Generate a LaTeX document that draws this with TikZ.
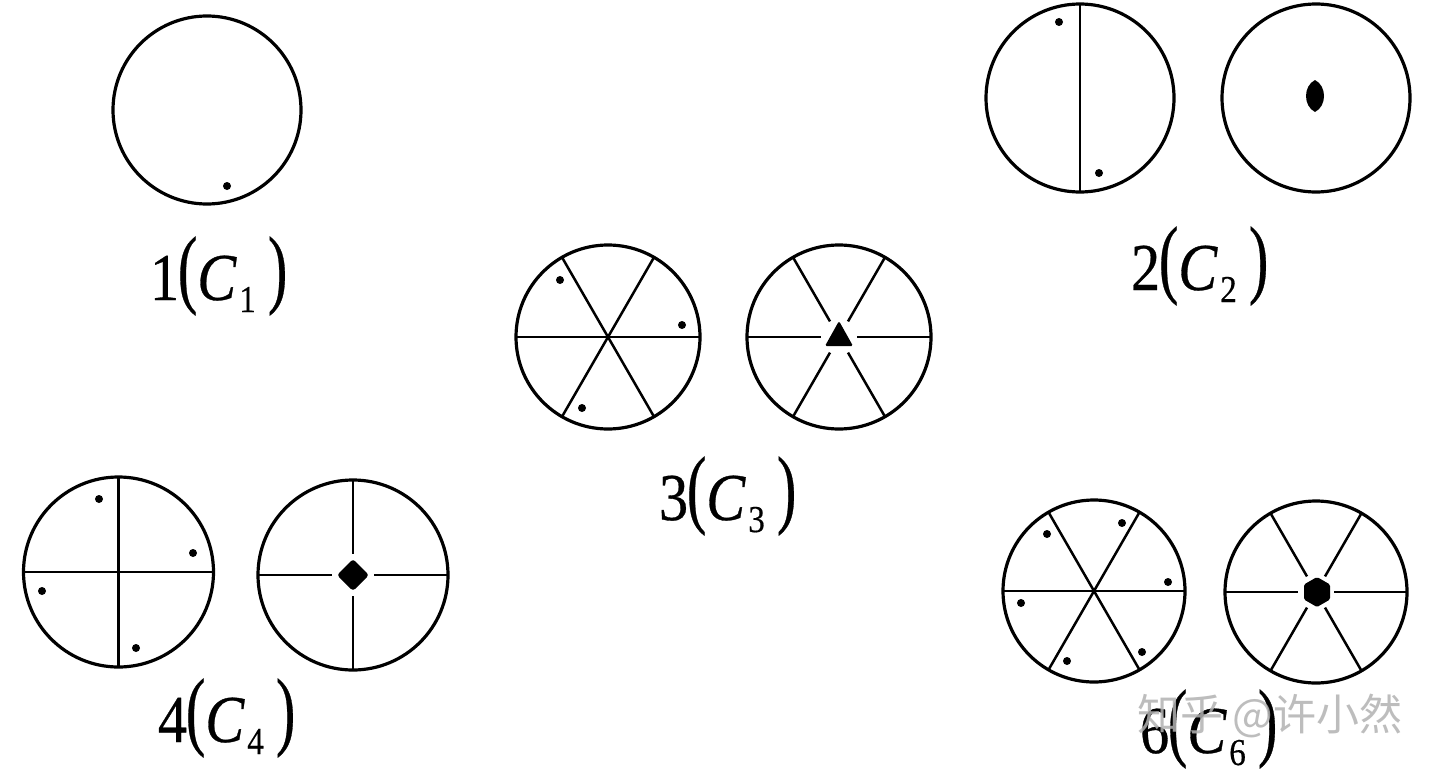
\documentclass[tikz,border=0pt]{standalone}
\usepackage{fontspec}
\setmainfont{Liberation Serif}
\newfontfamily\labfont[FakeBold=0.5]{Liberation Serif}
\newfontfamily\cjk{Noto Sans CJK SC}
\usepackage{graphicx}
\usetikzlibrary{calc}
\newcommand{\symlab}[2]{\scalebox{0.87}[1]{\labfont\fontsize{67}{67}\selectfont #1\kern-1.5pt\raisebox{3pt}{\scalebox{1}[1.3]{(}}\textit{C}\kern3pt\raisebox{-12pt}{\fontsize{38}{38}\selectfont #2}\kern14pt\raisebox{3pt}{\scalebox{1}[1.3]{)}}}}
\tikzset{
  disc/.style={circle, draw, line width=3.2pt, inner sep=0pt, outer sep=0pt},
  spoke/.style={line width=2.5pt},
  dot/.style={circle, fill, inner sep=0pt, outer sep=0pt, minimum size=8pt},
  lab/.style={anchor=base west, inner sep=0pt, outer sep=0pt},
  symfill/.style={fill, rounded corners=1.5pt}
}
\begin{document}
\begin{tikzpicture}[x=1pt,y=-1pt]
\useasboundingbox[fill=white] (0,0) rectangle (1440,776);
% ---- 1 (C1)
\node[disc, minimum size=188pt] (c1) at (207,110) {};
\node[dot] (d11) at (227,186) {};
\node[lab] (l1) at (150,300) {\symlab{1}{1}};
% ---- 2 (C2)
\node[disc, minimum size=188pt] (c2a) at (1080,98) {};
\draw[spoke] (c2a.90) -- (c2a.270);
\node[dot] (d21) at (1059,22) {};
\node[dot] (d22) at (1099,173) {};
\node[disc, minimum size=188pt] (c2b) at (1316,98) {};
\fill (1315,80) .. controls (1327,86) and (1327,106) .. (1315,112) .. controls (1303,106) and (1303,86) .. cycle;
\node[lab] (l2) at (1131,290) {\symlab{2}{2}};
% ---- 3 (C3)
\node[disc, minimum size=184pt] (c3a) at (608,337) {};
\draw[spoke] (c3a.0) -- (c3a.180);
\draw[spoke] (c3a.60) -- (c3a.240);
\draw[spoke] (c3a.120) -- (c3a.300);
\node[dot] (d31) at (560,280) {};
\node[dot] (d32) at (682,325) {};
\node[dot] (d33) at (582,408) {};
\node[disc, minimum size=184pt] (c3b) at (839,337) {};
\foreach \a in {0,60,...,300} \draw[spoke] (c3b.\a) -- ($(c3b.center)!18pt!(c3b.\a)$);
\fill[symfill] (839,321) -- (853,346) -- (825,346) -- cycle;
\node[lab] (l3) at (659,520) {\symlab{3}{3}};
% ---- 4 (C4)
\node[disc, minimum size=190pt] (c4a) at (118.5,572) {};
\draw[spoke] (c4a.90) -- (c4a.270);
\draw[spoke] (c4a.0) -- (c4a.180);
\node[dot] (d41) at (99,499) {};
\node[dot] (d42) at (193,553) {};
\node[dot] (d43) at (42,591) {};
\node[dot] (d44) at (136,648) {};
\node[disc, minimum size=190pt] (c4b) at (353,575) {};
\foreach \a in {0,90,180,270} \draw[spoke] (c4b.\a) -- ($(c4b.center)!21pt!(c4b.\a)$);
\fill[symfill, rounded corners=3pt] (353,559) -- (369,575) -- (353,591) -- (337,575) -- cycle;
\node[lab] (l4) at (158,742) {\symlab{4}{4}};
% ---- 6 (C6)
\node[disc, minimum size=182pt] (c6a) at (1094,591) {};
\draw[spoke] (c6a.0) -- (c6a.180);
\draw[spoke] (c6a.60) -- (c6a.240);
\draw[spoke] (c6a.120) -- (c6a.300);
\node[dot] (d61) at (1047,534) {};
\node[dot] (d62) at (1122,523) {};
\node[dot] (d63) at (1168,582) {};
\node[dot] (d64) at (1021,603) {};
\node[dot] (d65) at (1067,661) {};
\node[dot] (d66) at (1142,652) {};
\node[disc, minimum size=182pt] (c6b) at (1316,592) {};
\foreach \a in {0,60,...,300} \draw[spoke] (c6b.\a) -- ($(c6b.center)!18pt!(c6b.\a)$);
\fill[symfill] (1317,577) -- (1330,584.5) -- (1330,599.5) -- (1317,607) -- (1304,599.5) -- (1304,584.5) -- cycle;
\node[lab] (l6) at (1140,753) {\symlab{6}{6}};
% ---- watermark
\node[anchor=west, inner sep=0pt, text=gray!60, opacity=0.85, font=\cjk\fontsize{43}{43}\selectfont] (wm) at (1137,716) {知乎 @许小然};
\end{tikzpicture}
\end{document}
